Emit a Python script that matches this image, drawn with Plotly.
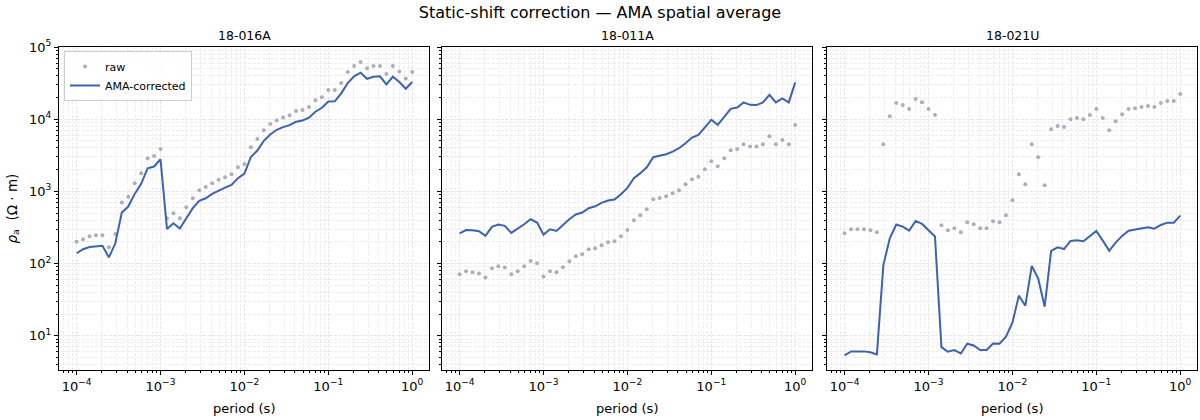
import numpy as np
import plotly.graph_objects as go

# ---- data ----
period = np.logspace(-4, 0, 53)

stations = ["18-016A", "18-011A", "18-021U"]

raw_016A = [200, 217, 239, 247, 247, 168, 257, 700, 840, 1300, 1790, 2880, 3100, 3850,
            425, 498, 425, 603, 803, 1040, 1150, 1300, 1445, 1570, 1730, 2160, 2400, 4100,
            5300, 7050, 8550, 9700, 10570, 11380, 12950, 13370, 14700, 18370, 20200, 25300,
            25300, 31600, 45000, 54400, 61800, 50600, 54400, 54400, 42200, 54400, 45900,
            36700, 45000]
cor_016A = [139, 158, 170, 175, 176, 122, 191, 508, 617, 923, 1270, 2094, 2210, 2790,
            302, 361, 305, 425, 585, 738, 803, 923, 1025, 1130, 1230, 1524, 1770, 3000,
            3680, 5010, 6140, 7130, 7760, 8280, 9200, 9610, 10470, 12680, 14400, 17600,
            17700, 22800, 31600, 39200, 44000, 36300, 38700, 39200, 30300, 38700, 32700,
            26400, 32700]

raw_011A = [71, 78, 76, 73, 64, 86, 92, 88, 71, 78, 92, 109, 101, 66,
            78, 76, 89, 108, 126, 135, 158, 163, 179, 197, 204, 239, 292, 398,
            468, 566, 778, 812, 857, 944, 1038, 1259, 1476, 1590, 2030, 2620, 2230, 2880,
            3720, 3880, 4510, 4190, 4190, 4510, 5820, 4510, 5130, 4510, 8280]
cor_011A = [263, 292, 290, 281, 242, 322, 347, 333, 266, 302, 350, 411, 370, 252,
            299, 283, 340, 411, 478, 509, 585, 622, 692, 746, 770, 914, 1120, 1524,
            1790, 2160, 2980, 3100, 3270, 3560, 3960, 4650, 5570, 6080, 7600, 9800, 8360,
            10900, 13900, 14500, 17100, 15800, 15700, 17100, 21800, 17100, 19400, 17100, 32400]

raw_021U = [263, 299, 299, 299, 289, 272, 4510, 11000, 16700, 15700, 13800, 19000, 17200, 13800,
            11400, 340, 289, 308, 272, 373, 351, 308, 308, 386, 373, 468, 753, 1730,
            1256, 4510, 2980, 1220, 7280, 8020, 7770, 10000, 10350, 10000, 11400, 13800,
            10350, 7050, 9400, 11750, 13800, 14200, 14700, 15200, 14700, 16700, 17800,
            17800, 22300]
cor_021U = [5.35, 6.08, 6.08, 6.08, 5.9, 5.52, 94.6, 224, 347, 325, 286, 390, 354, 289,
            237, 6.97, 6.01, 6.34, 5.69, 7.75, 7.35, 6.34, 6.34, 7.8, 7.75, 9.7, 15.2, 36,
            26.1, 92.7, 61.8, 25.3, 150, 168, 159, 206, 210, 204, 237, 283, 208, 150, 195,
            242, 286, 296, 305, 318, 305, 343, 369, 369, 461]

raw_series = [raw_016A, raw_011A, raw_021U]
cor_series = [cor_016A, cor_011A, cor_021U]

x_tickvals = [1e-4, 1e-3, 1e-2, 1e-1, 1e0]
x_ticktext = ["10<sup>−4</sup>", "10<sup>−3</sup>", "10<sup>−2</sup>", "10<sup>−1</sup>", "10<sup>0</sup>"]
y_tickvals = [1e1, 1e2, 1e3, 1e4, 1e5]
y_ticktext = ["10<sup>1</sup>", "10<sup>2</sup>", "10<sup>3</sup>", "10<sup>4</sup>", "10<sup>5</sup>"]

# ---- styling ----
RAW_COLOR = "#a9afbd"
COR_COLOR = "#3c62b1"
FONT = "DejaVu Sans"
GRID_MAJOR = "#e6e6e6"
GRID_MINOR = "#ededed"
DASH = "3px,1.5px"

W, H = 1200, 420
ML, MR, MT, MB = 59, 3, 47, 50
PW = W - ML - MR
PH = H - MT - MB
panels_px = [(59, 429), (442, 812), (827, 1197)]
domains = [[(a - ML) / PW, min(1.0, (b - ML) / PW)] for a, b in panels_px]

minor_x = [m * 10.0 ** k for k in range(-5, 1) for m in range(2, 10)]
minor_y = [m * 10.0 ** k for k in range(0, 5) for m in range(2, 10)]

fig = go.Figure()
for i in range(3):
    xa = "x" if i == 0 else f"x{i+1}"
    ya = "y" if i == 0 else f"y{i+1}"
    fig.add_trace(go.Scatter(
        x=period, y=raw_series[i], mode="markers", name="raw",
        marker=dict(color=RAW_COLOR, size=4), showlegend=(i == 0),
        xaxis=xa, yaxis=ya))
    fig.add_trace(go.Scatter(
        x=period, y=cor_series[i], mode="lines", name="AMA-corrected",
        line=dict(color=COR_COLOR, width=2), showlegend=(i == 0),
        xaxis=xa, yaxis=ya))

layout = dict(
    width=W, height=H,
    margin=dict(l=ML, r=MR, t=MT, b=MB),
    paper_bgcolor="white", plot_bgcolor="white",
    font=dict(family=FONT, size=13, color="black"),
    title=dict(text="Static-shift correction — AMA spatial average",
               x=0.5, xref="container", xanchor="center",
               y=1 - 12 / H, yref="container", yanchor="middle",
               font=dict(size=16, family=FONT)),
    legend=dict(x=(64 - ML) / PW, y=1 - (51 - MT) / PH, xanchor="left", yanchor="top",
                bgcolor="rgba(255,255,255,0.85)", bordercolor="#cccccc", borderwidth=1,
                font=dict(size=11, family=FONT), tracegroupgap=0,
                itemwidth=30),
    showlegend=True,
)

axis_common = dict(
    type="log", showline=True, linecolor="black", linewidth=1, mirror=True,
    ticks="outside", ticklen=4, tickwidth=1, tickcolor="black",
    showgrid=True, gridcolor=GRID_MAJOR, gridwidth=0.8, griddash=DASH,
    zeroline=False, tickfont=dict(size=13, family=FONT),
)

annotations = []
for i in range(3):
    sx = "" if i == 0 else str(i + 1)
    xaxis = dict(axis_common)
    xaxis.update(domain=domains[i], range=[-4.21, 0.2], anchor="y" + sx,
                 tickmode="array", tickvals=x_tickvals, ticktext=x_ticktext,
                 minor=dict(tickmode="array", tickvals=minor_x, ticks="outside",
                            ticklen=2, tickcolor="black", showgrid=True,
                            gridcolor=GRID_MINOR, griddash=DASH, gridwidth=0.6))
    yaxis = dict(axis_common)
    yaxis.update(domain=[0, 1], range=[0.526, 5.0], anchor="x" + sx,
                 tickmode="array", tickvals=y_tickvals, ticktext=y_ticktext,
                 showticklabels=(i == 0),
                 minor=dict(tickmode="array", tickvals=minor_y, ticks="outside",
                            ticklen=2, tickcolor="black", showgrid=True,
                            gridcolor=GRID_MINOR, griddash=DASH, gridwidth=0.6))
    if i > 0:
        yaxis["matches"] = "y"
    layout["xaxis" + sx] = xaxis
    layout["yaxis" + sx] = yaxis

    cx = (domains[i][0] + domains[i][1]) / 2
    annotations.append(dict(text=stations[i], x=cx, y=1 + 12 / PH, xref="paper", yref="paper",
                            xanchor="center", yanchor="middle", showarrow=False,
                            font=dict(size=12.5, family=FONT)))
    annotations.append(dict(text="period (s)", x=cx, y=-(408 - (MT + PH)) / PH,
                            xref="paper", yref="paper", xanchor="center", yanchor="middle",
                            showarrow=False, font=dict(size=13, family=FONT)))

annotations.append(dict(text="<i>ρ</i><sub>a</sub>  (Ω · m)", x=(12 - ML) / PW, y=0.5,
                        xref="paper", yref="paper", xanchor="center", yanchor="middle",
                        textangle=-90, showarrow=False, font=dict(size=13.5, family=FONT)))
layout["annotations"] = annotations

fig.update_layout(**layout)
fig.write_html("out.html")
